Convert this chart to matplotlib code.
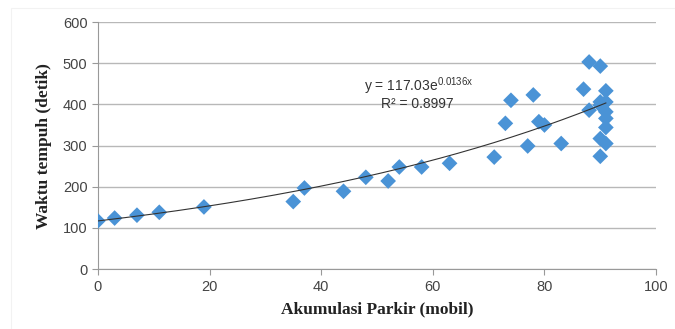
import numpy as np
import matplotlib.pyplot as plt
from matplotlib.patches import Rectangle

plt.rcParams['mathtext.default'] = 'regular'

# akumulasi parkir (mobil) vs waktu tempuh (detik)
akumulasi = [0, 3, 7, 11, 19, 35, 37, 44, 48, 52, 54, 58, 63, 71,
             73, 74, 77, 78, 79, 80, 83, 87, 88, 88, 90, 91, 90,
             91, 91, 91, 90, 91, 90, 91, 90]
waktu = [117, 124, 131, 138, 151, 164, 197, 189, 223, 214, 248, 248, 257, 272,
         354, 410, 299, 423, 358, 350, 305, 437, 503, 386, 493, 433, 406,
         406, 382, 366, 317, 344, 274, 305, 398]

# trendline dari Excel
a_fit = 117.03
b_fit = 0.0136

fig = plt.figure(figsize=(6.75, 3.29), dpi=100)
fig.patches.append(Rectangle((0.016, -0.1), 1.2, 1.075, transform=fig.transFigure,
                             fill=False, edgecolor='#f2f2f2', linewidth=0.8))
ax = fig.add_axes([0.145, 0.182, 0.827, 0.751])

ax.grid(axis='y', color='#b8b8b8', linewidth=1)
ax.set_axisbelow(True)

ax.scatter(akumulasi, waktu, marker='D', s=64, color='#4a93d6',
           edgecolors='none', zorder=3)

xs = np.linspace(0, max(akumulasi), 200)
ax.plot(xs, a_fit * np.exp(b_fit * xs), color='#333333', linewidth=0.8, zorder=4)

ax.text(57.5, 445, 'y = 117.03e$^{0.0136x}$', ha='center', va='center',
        fontsize=10, color='#333333', family='Liberation Sans')
ax.text(57.2, 400, 'R² = 0.8997', ha='center', va='center',
        fontsize=10, color='#333333', family='Liberation Sans')

ax.set_xlim(0, 100)
ax.set_ylim(0, 600)
ax.set_xticks(range(0, 101, 20))
ax.set_yticks(range(0, 601, 100))

for s in ['top', 'right']:
    ax.spines[s].set_visible(False)
for s in ['left', 'bottom']:
    ax.spines[s].set_color('#999999')
ax.tick_params(colors='#999999', labelcolor='#444444', labelsize=10.5,
               direction='out', length=4)
for lab in ax.get_xticklabels() + ax.get_yticklabels():
    lab.set_family('Liberation Sans')

ax.set_xlabel('Akumulasi Parkir (mobil)', family='Liberation Serif',
              fontweight='bold', fontsize=12.5, color='#222222', labelpad=6)
ax.set_ylabel('Waktu tempuh (detik)', family='Liberation Serif',
              fontweight='bold', fontsize=12.5, color='#222222', labelpad=8)

fig.savefig('out.png', dpi=100)
